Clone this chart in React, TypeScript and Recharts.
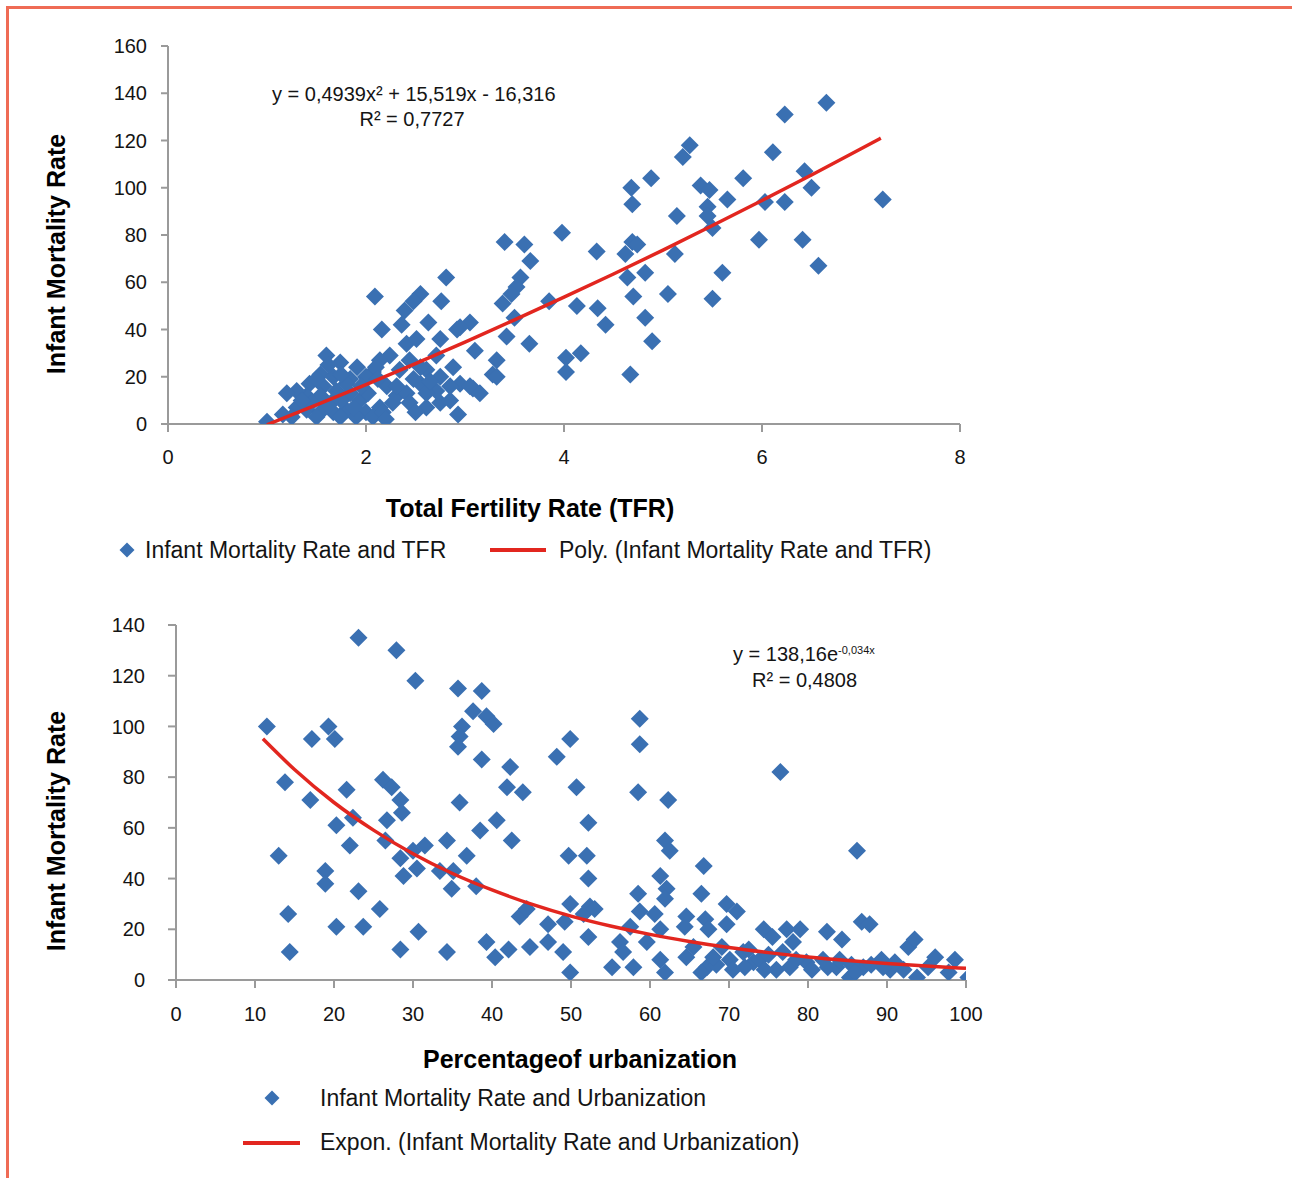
import React from 'react';
import { ScatterChart, Scatter, XAxis, YAxis, Legend } from 'recharts';

const FONT = '"Liberation Sans", Arial, Helvetica, sans-serif';
const BLUE = '#3a70b2';
const RED = '#e2261f';
const AXIS = '#9a9a9a';

// --- top chart: total fertility rate vs infant mortality ---
const tfrTicks = [0, 2, 4, 6, 8];
const imrTicksTop = [0, 20, 40, 60, 80, 100, 120, 140, 160];

const tfrPoints: [number, number][] = [
  [6.65, 136], [6.23, 131], [5.27, 118], [5.2, 113], [6.11, 115], [4.88, 104],
  [4.68, 100], [4.69, 93], [5.38, 101], [5.47, 99], [5.81, 104], [6.43, 107],
  [6.5, 100], [5.65, 95], [5.14, 88], [5.45, 92], [5.45, 88], [5.5, 83],
  [6.03, 94], [6.23, 94], [7.22, 95], [5.97, 78], [6.41, 78], [6.57, 67],
  [5.6, 64], [3.98, 81], [3.4, 77], [3.6, 76], [3.66, 69], [4.33, 73],
  [4.69, 77], [4.74, 76], [4.62, 72], [4.64, 62], [5.12, 72], [4.82, 64],
  [3.56, 62], [3.52, 58], [3.47, 55], [5.05, 55], [4.7, 54], [5.5, 53],
  [3.85, 52], [4.13, 50], [4.34, 49], [4.42, 42], [4.82, 45], [4.89, 35],
  [4.67, 21], [4.02, 28], [4.17, 30], [4.02, 22], [3.65, 34], [3.42, 37],
  [3.5, 45],
  [2.81, 62], [2.09, 54], [2.55, 55], [2.48, 52], [2.39, 48], [2.76, 52],
  [2.16, 40], [2.36, 42], [2.63, 43], [2.41, 34], [2.51, 36], [2.75, 36],
  [2.92, 40], [3.05, 43], [2.95, 41], [3.1, 31], [3.38, 51], [3.32, 27],
  [3.28, 21], [3.08, 15], [2.95, 17], [2.88, 24], [2.93, 4], [2.71, 29],
  [2.61, 23], [2.55, 17], [2.71, 14], [2.61, 7], [2.75, 9], [2.34, 23],
  [2.24, 29], [2.14, 27], [2.07, 22], [2.21, 16], [2.31, 12], [2.41, 13],
  [2.44, 9], [2.14, 7], [2.0, 5], [2.07, 3], [1.94, 10], [1.84, 13],
  [1.84, 19], [1.6, 29], [1.74, 26], [1.91, 24], [1.54, 21], [1.43, 17],
  [1.57, 16], [1.7, 14], [1.67, 10], [1.54, 12], [1.4, 12], [1.3, 14],
  [1.2, 13], [1.3, 7], [1.4, 6], [1.54, 5], [1.67, 5], [1.8, 6],
  [1.74, 3], [1.9, 3], [1.0, 1], [1.16, 4], [1.5, 3], [2.17, 5],
  [1.8, 17], [1.67, 20], [2.0, 20], [2.1, 24], [2.55, 24], [2.44, 27],
  [2.75, 20], [2.85, 16], [3.05, 16], [3.15, 13], [3.32, 20], [2.31, 16],
  [2.48, 19], [2.61, 13], [2.85, 10],
  [1.45, 9], [1.62, 8], [1.75, 10], [1.88, 7], [2.02, 13], [1.95, 16],
  [1.5, 19], [1.62, 25], [1.75, 21], [2.2, 2], [2.27, 9], [2.5, 5],
  [2.65, 18], [2.12, 19], [1.35, 10], [1.25, 3],
];

// polynomial trend line
const polyTrendX = [1.0, 1.5, 2, 2.5, 3, 3.5, 4, 4.5, 5, 5.5, 6, 6.5, 7, 7.2];
const polyTrendY = [-0.3, 8.1, 16.7, 25.6, 34.7, 44.1, 53.7, 63.5, 73.6, 84.0, 94.6, 105.4, 116.5, 121.0];

// --- bottom chart: urbanization vs infant mortality ---
const urbTicks = [0, 10, 20, 30, 40, 50, 60, 70, 80, 90, 100];
const imrTicksBottom = [0, 20, 40, 60, 80, 100, 120, 140];

const urbPoints: [number, number][] = [
  [23.1, 135], [27.9, 130], [30.3, 118], [35.7, 115], [38.7, 114], [37.6, 106],
  [39.3, 104], [40.2, 101], [36.2, 100], [35.9, 96], [35.7, 92], [38.7, 87],
  [42.3, 84], [41.9, 76], [43.9, 74], [48.2, 88], [49.9, 95], [50.7, 76],
  [52.2, 62], [11.5, 100], [17.2, 95], [19.3, 100], [20.1, 95], [13.8, 78],
  [17, 71], [21.6, 75], [20.3, 61], [22.4, 64], [22, 53], [13, 49],
  [18.9, 43], [18.9, 38], [23.1, 35], [14.2, 26], [20.3, 21], [23.7, 21],
  [14.4, 11], [25.8, 28], [26.2, 79], [27.3, 76], [28.4, 71], [28.6, 66],
  [26.7, 63], [26.5, 55], [28.4, 48], [30, 51], [31.5, 53], [34.3, 55],
  [36.8, 49], [28.8, 41], [30.5, 44], [33.4, 43], [35.1, 43], [34.9, 36],
  [38, 37], [35.9, 70], [38.5, 59], [40.6, 63], [42.5, 55], [30.7, 19],
  [28.4, 12], [34.3, 11], [39.3, 15], [40.4, 9], [42.1, 12], [44.8, 13],
  [43.5, 25], [44.4, 28], [47.1, 22], [47.1, 15], [49, 11], [49.2, 23],
  [49.9, 3], [49.9, 30], [49.7, 49], [52, 49], [52.2, 40], [52.4, 29],
  [52.2, 17], [51.6, 26],
  [58.7, 103], [58.7, 93], [58.5, 74], [62.3, 71], [76.5, 82], [61.9, 55],
  [62.5, 51], [66.8, 45], [66.5, 34], [86.2, 51], [61.3, 41], [62.1, 36],
  [61.9, 32], [58.5, 34], [58.7, 27], [60.6, 26], [53, 28], [61.3, 20],
  [57.5, 21], [56.2, 15], [56.6, 11], [59.6, 15], [55.2, 5], [57.9, 5],
  [61.3, 8], [61.9, 3], [64.6, 9], [64.6, 25], [64.4, 21], [67, 24],
  [67.4, 20], [69.7, 30], [71, 27], [69.7, 22], [69.1, 13], [67.2, 5],
  [68.4, 6], [70.1, 8], [71.8, 11], [73.1, 7], [74.4, 20], [75.5, 17],
  [77.3, 20], [79, 20], [78.1, 15], [73.9, 8], [76, 4], [77.7, 5],
  [79.8, 7], [82.4, 19], [84.3, 16], [81.9, 8], [83.6, 5], [85.3, 1],
  [87, 5], [86.8, 23], [87.8, 22], [89.3, 8], [92.7, 13], [93.5, 16],
  [92.1, 4], [93.8, 1], [96.1, 9], [95.2, 5], [98.6, 8], [97.8, 3],
  [100.3, 1], [90.4, 4],
  [66.5, 3], [68, 9], [70.5, 4], [72, 5], [74.5, 4], [75, 10],
  [78.5, 8], [80.5, 4], [82.5, 5], [84, 8], [85.5, 6], [86, 3],
  [88, 6], [89.5, 5], [91, 7], [72.5, 12], [76.8, 11], [65.5, 13],
];

// exponential trend line
const expTrendX = [11, 15, 20, 25, 30, 35, 40, 45, 50, 55, 60, 65, 70, 75, 80, 85, 90, 95, 100];
const expTrendY = [95.1, 83.0, 70.0, 59.1, 49.8, 42.0, 35.5, 29.9, 25.2, 21.3, 18.0, 15.2, 12.8, 10.8, 9.1, 7.7, 6.5, 5.5, 4.6];

const toXY = (pts: [number, number][]) => pts.map(([x, y]) => ({ x, y }));
const zipXY = (xs: number[], ys: number[]) => xs.map((x, i) => ({ x, y: ys[i] }));

const tfrData = toXY(tfrPoints);
const polyData = zipXY(polyTrendX, polyTrendY);
const urbData = toXY(urbPoints);
const expData = zipXY(expTrendX, expTrendY);

const axisLine = { stroke: AXIS, strokeWidth: 2 };
const tickText = { fill: '#141414', fontSize: 20, fontFamily: FONT };

const Diamond = (props: any) => {
  const { cx, cy } = props;
  const r = 9;
  return <path d={`M${cx},${cy - r}L${cx + r},${cy}L${cx},${cy + r}L${cx - r},${cy}Z`} fill={BLUE} />;
};

const NoDot = () => <g />;

const legendMarker = (cx: number, cy: number) => {
  const r = 7.5;
  return <path d={`M${cx},${cy - r}L${cx + r},${cy}L${cx},${cy + r}L${cx - r},${cy}Z`} fill={BLUE} />;
};

const TopLegend = () => (
  <svg width={1292} height={590} style={{ position: 'absolute', left: 0, top: 0, overflow: 'visible' }}>
    {legendMarker(127, 550)}
    <text x={145} y={558} fontSize={23} fontFamily={FONT} fill="#141414">Infant Mortality Rate and TFR</text>
    <line x1={490} x2={546} y1={550} y2={550} stroke={RED} strokeWidth={4} />
    <text x={559} y={558} fontSize={23} fontFamily={FONT} fill="#141414">Poly. (Infant Mortality Rate and TFR)</text>
  </svg>
);

const BottomLegend = () => (
  <svg width={1292} height={588} style={{ position: 'absolute', left: 0, top: 0, overflow: 'visible' }}>
    {legendMarker(272, 508)}
    <text x={320} y={516} fontSize={23} fontFamily={FONT} fill="#141414">Infant Mortality Rate and Urbanization</text>
    <line x1={243} x2={300} y1={553} y2={553} stroke={RED} strokeWidth={4} />
    <text x={320} y={560} fontSize={23} fontFamily={FONT} fill="#141414">Expon. (Infant Mortality Rate and Urbanization)</text>
  </svg>
);

function TfrChart() {
  return (
    <ScatterChart width={1292} height={590} margin={{ top: 46, right: 332, bottom: 106, left: 0 }}>
      <XAxis
        type="number"
        dataKey="x"
        domain={[0, 8]}
        ticks={tfrTicks}
        interval={0}
        height={60}
        tickSize={8}
        tickMargin={18}
        axisLine={axisLine}
        tickLine={axisLine}
        tick={tickText}
        allowDataOverflow
      />
      <YAxis
        type="number"
        dataKey="y"
        domain={[0, 160]}
        ticks={imrTicksTop}
        interval={0}
        width={168}
        tickSize={7}
        tickMargin={14}
        axisLine={axisLine}
        tickLine={axisLine}
        tick={tickText}
        allowDataOverflow
      />
      <Scatter data={tfrData} shape={Diamond} isAnimationActive={false} />
      <Scatter
        data={polyData}
        shape={NoDot}
        line={{ stroke: RED, strokeWidth: 3.5 }}
        lineJointType="monotoneX"
        isAnimationActive={false}
      />
      <text x={272} y={101} fontSize={20} fontFamily={FONT} fill="#141414">y = 0,4939x² + 15,519x - 16,316</text>
      <text x={412} y={126} fontSize={20} fontFamily={FONT} fill="#141414" textAnchor="middle">R² = 0,7727</text>
      <text x={530} y={517} fontSize={25} fontWeight="bold" fontFamily={FONT} fill="#000" textAnchor="middle">
        Total Fertility Rate (TFR)
      </text>
      <text x={65} y={254} fontSize={25} fontWeight="bold" fontFamily={FONT} fill="#000" textAnchor="middle" transform="rotate(-90 65 254)">
        Infant Mortality Rate
      </text>
      <Legend
        layout="vertical"
        align="center"
        verticalAlign="middle"
        wrapperStyle={{ left: 0, top: 0, width: 1292, height: 590 }}
        content={() => <TopLegend />}
      />
    </ScatterChart>
  );
}

function UrbanChart() {
  return (
    <ScatterChart width={1292} height={588} margin={{ top: 35, right: 326, bottom: 138, left: 0 }}>
      <XAxis
        type="number"
        dataKey="x"
        domain={[0, 100]}
        ticks={urbTicks}
        interval={0}
        height={60}
        tickSize={8}
        tickMargin={19}
        axisLine={axisLine}
        tickLine={axisLine}
        tick={tickText}
        allowDataOverflow
      />
      <YAxis
        type="number"
        dataKey="y"
        domain={[0, 140]}
        ticks={imrTicksBottom}
        interval={0}
        width={176}
        tickSize={8}
        tickMargin={23}
        axisLine={axisLine}
        tickLine={axisLine}
        tick={tickText}
        allowDataOverflow
      />
      <Scatter data={urbData} shape={Diamond} isAnimationActive={false} />
      <Scatter
        data={expData}
        shape={NoDot}
        line={{ stroke: RED, strokeWidth: 3.5 }}
        lineJointType="monotoneX"
        isAnimationActive={false}
      />
      <text x={733} y={71} fontSize={20} fontFamily={FONT} fill="#141414">
        y = 138,16e<tspan fontSize={11} dy={-7}>-0,034x</tspan>
      </text>
      <text x={752} y={97} fontSize={20} fontFamily={FONT} fill="#141414">R² = 0,4808</text>
      <text x={580} y={478} fontSize={25} fontWeight="bold" fontFamily={FONT} fill="#000" textAnchor="middle">
        Percentageof urbanization
      </text>
      <text x={65} y={241} fontSize={25} fontWeight="bold" fontFamily={FONT} fill="#000" textAnchor="middle" transform="rotate(-90 65 241)">
        Infant Mortality Rate
      </text>
      <Legend
        layout="vertical"
        align="center"
        verticalAlign="middle"
        wrapperStyle={{ left: 0, top: 0, width: 1292, height: 588 }}
        content={() => <BottomLegend />}
      />
    </ScatterChart>
  );
}

export default function App() {
  return (
    <div style={{ position: 'absolute', left: 0, top: 0, width: 1292, height: 1178, background: '#fff', fontFamily: FONT }}>
      <div
        style={{
          position: 'absolute',
          left: 6,
          top: 6,
          width: 1286,
          height: 1172,
          borderTop: '3px solid #ef6b55',
          borderLeft: '3px solid #ef6b55',
          boxSizing: 'border-box',
        }}
      />
      <div style={{ position: 'absolute', left: 0, top: 0 }}>
        <TfrChart />
      </div>
      <div style={{ position: 'absolute', left: 0, top: 590 }}>
        <UrbanChart />
      </div>
    </div>
  );
}
